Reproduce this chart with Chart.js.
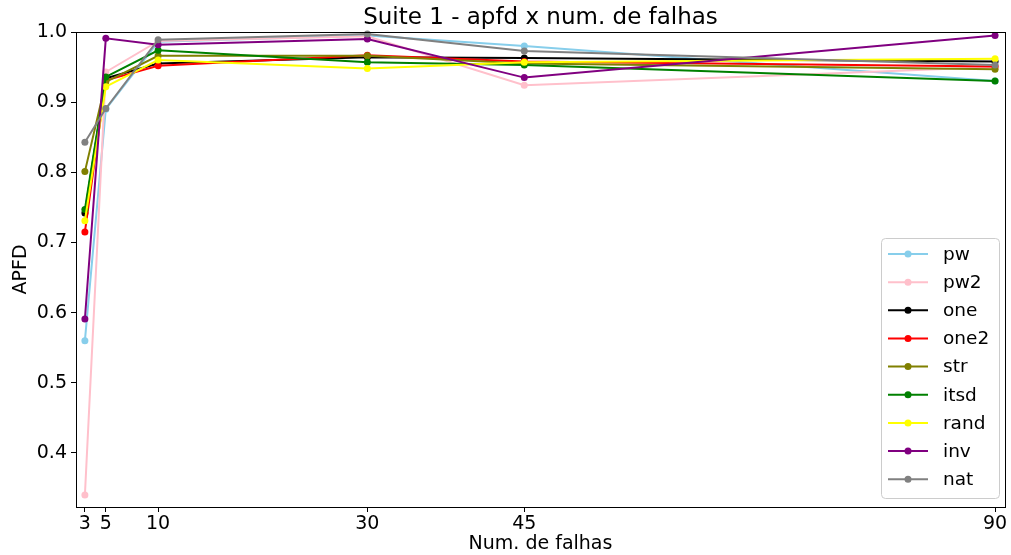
<!DOCTYPE html>
<html>
<head>
<meta charset="utf-8">
<script src="https://cdn.jsdelivr.net/npm/chart.js@4/dist/chart.umd.min.js"></script>
<style>
    html, body { margin: 0; padding: 0; background: #fff; }
    #wrap { width: 1011px; height: 555px; }
</style>
</head>
<body>
<div id="wrap"><canvas id="apfdChart" width="1011" height="555"></canvas></div>
<script>
// values
const numFalhas = [3, 5, 10, 30, 45, 90];
const xTicks = [3, 5, 10, 30, 45, 90];
const yTicks = [0.4, 0.5, 0.6, 0.7, 0.8, 0.9, 1.0];

const pw   = [0.560, 0.890, 0.986, 0.995, 0.980, 0.930];
const pw2  = [0.340, 0.943, 0.987, 0.994, 0.924, 0.950];
const one  = [0.742, 0.934, 0.955, 0.964, 0.963, 0.958];
const one2 = [0.715, 0.931, 0.952, 0.967, 0.958, 0.951];
const str  = [0.801, 0.929, 0.966, 0.966, 0.955, 0.947];
const itsd = [0.747, 0.936, 0.974, 0.957, 0.953, 0.930];
const rand = [0.731, 0.922, 0.960, 0.948, 0.957, 0.962];
const inv  = [0.591, 0.991, 0.982, 0.990, 0.935, 0.995];
const nat  = [0.843, 0.891, 0.989, 0.997, 0.973, 0.953];

const seriesNames = ['pw', 'pw2', 'one', 'one2', 'str', 'itsd', 'rand', 'inv', 'nat'];
const seriesValues = [pw, pw2, one, one2, str, itsd, rand, inv, nat];
const seriesColors = ['#87ceeb', '#ffc0cb', '#000000', '#ff0000', '#808000', '#008000', '#ffff00', '#800080', '#808080'];

const font = "'DejaVu Sans', sans-serif";

const datasets = seriesNames.map((name, i) => ({
    label: name,
    data: seriesValues[i].map((v, j) => ({ x: numFalhas[j], y: v })),
    borderColor: seriesColors[i],
    backgroundColor: seriesColors[i],
    borderWidth: 2,
    pointRadius: 3.5,
    pointBorderWidth: 0,
    pointHoverRadius: 3.5,
    tension: 0,
    clip: false,
    order: seriesNames.length - i // last series drawn on top, like matplotlib
}));

// frame on all four sides + legend box inside the plot
const framePlugin = {
    id: 'frameAndLegend',
    afterDatasetsDraw(chart) {
        const ctx = chart.ctx;
        const a = chart.chartArea;
        ctx.save();
        ctx.strokeStyle = '#000';
        ctx.lineWidth = 1;
        ctx.strokeRect(Math.round(a.left) + 0.5, Math.round(a.top) + 0.5,
            Math.round(a.right - a.left), Math.round(a.bottom - a.top));

        // legend
        const boxL = 881.5, boxT = 238.5, boxW = 118, boxH = 260;
        const r = 4;
        ctx.beginPath();
        ctx.moveTo(boxL + r, boxT);
        ctx.arcTo(boxL + boxW, boxT, boxL + boxW, boxT + boxH, r);
        ctx.arcTo(boxL + boxW, boxT + boxH, boxL, boxT + boxH, r);
        ctx.arcTo(boxL, boxT + boxH, boxL, boxT, r);
        ctx.arcTo(boxL, boxT, boxL + boxW, boxT, r);
        ctx.closePath();
        ctx.fillStyle = 'rgba(255,255,255,0.8)';
        ctx.fill();
        ctx.strokeStyle = '#cccccc';
        ctx.stroke();

        ctx.font = '18.5px ' + font;
        ctx.textBaseline = 'middle';
        ctx.textAlign = 'left';
        chart.data.datasets.forEach((ds, i) => {
            const y = 254 + i * 28.15;
            ctx.strokeStyle = ds.borderColor;
            ctx.lineWidth = 2;
            ctx.beginPath();
            ctx.moveTo(888, y);
            ctx.lineTo(928, y);
            ctx.stroke();
            ctx.fillStyle = ds.borderColor;
            ctx.beginPath();
            ctx.arc(908, y, 3.5, 0, Math.PI * 2);
            ctx.fill();
            ctx.fillStyle = '#000';
            ctx.fillText(ds.label, 943, y + 1);
        });
        ctx.restore();
    }
};

const ctx = document.getElementById('apfdChart').getContext('2d');
new Chart(ctx, {
    type: 'line',
    data: { datasets: datasets },
    plugins: [framePlugin],
    options: {
        responsive: false,
        animation: false,
        events: [],
        layout: { padding: { left: 0, right: 6, top: 0, bottom: 0 } },
        plugins: {
            legend: { display: false },
            tooltip: { enabled: false },
            title: {
                display: true,
                fullSize: false,
                text: 'Suite 1 - apfd x num. de falhas',
                color: '#000',
                font: { family: font, size: 23, weight: 'normal' },
                padding: { top: 4, bottom: 0.4 }
            }
        },
        scales: {
            x: {
                type: 'linear',
                min: 2.15,
                max: 90.95,
                afterBuildTicks: (scale) => { scale.ticks = xTicks.map(v => ({ value: v })); },
                afterFit: (scale) => { scale.height = 48; },
                grid: { drawOnChartArea: false, drawTicks: true, tickLength: 5, color: '#000' },
                border: { display: true, color: '#000' },
                ticks: {
                    color: '#000',
                    font: { family: font, size: 19 },
                    padding: 1,
                    maxRotation: 0,
                    autoSkip: false
                },
                title: {
                    display: true,
                    text: 'Num. de falhas',
                    color: '#000',
                    font: { family: font, size: 19 },
                    padding: { top: 0, bottom: 0 }
                }
            },
            y: {
                min: 0.323,
                max: 1.0,
                afterBuildTicks: (scale) => { scale.ticks = yTicks.map(v => ({ value: v })); },
                afterFit: (scale) => { scale.width = 76; },
                grid: { drawOnChartArea: false, drawTicks: true, tickLength: 5, color: '#000' },
                border: { display: true, color: '#000' },
                ticks: {
                    color: '#000',
                    font: { family: font, size: 19 },
                    padding: 4,
                    callback: (v) => v.toFixed(1)
                },
                title: {
                    display: true,
                    text: 'APFD',
                    color: '#000',
                    font: { family: font, size: 19 },
                    padding: { top: 10, bottom: 0 }
                }
            }
        }
    }
});
</script>
</body>
</html>
